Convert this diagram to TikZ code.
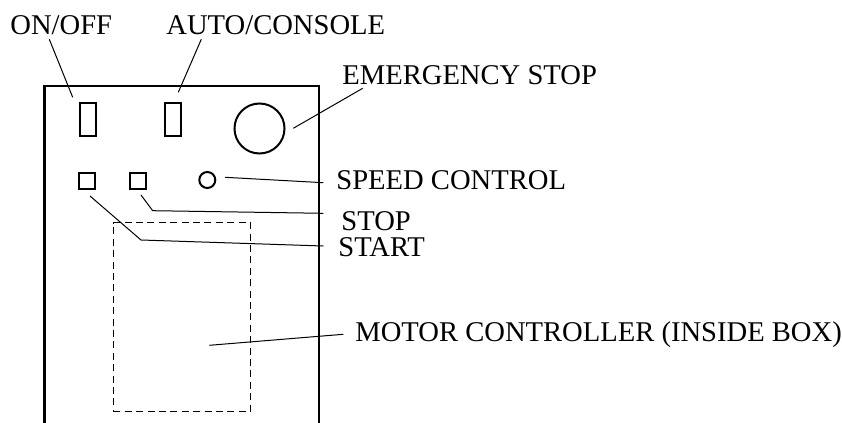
\documentclass[tikz,border=0pt]{standalone}
\usepackage{fontspec}
\setmainfont{Liberation Serif}
\usetikzlibrary{positioning}
\tikzset{
  lbl/.style={inner sep=0pt,anchor=base west,font=\fontsize{14.3}{16}\selectfont},
  part/.style={draw,line width=1pt,inner sep=0pt},
  lead/.style={line width=0.5pt}
}
\begin{document}
\begin{tikzpicture}[x=0.5pt,y=-0.5pt]
\useasboundingbox (0,0) rectangle (842,423);
% panel
\draw[line width=1.15pt] (44.5,423)--(44.5,86)--(319,86)--(319,423);
\node[draw,line width=0.5pt,dash pattern=on 3.5pt off 2.2pt,inner sep=0pt,minimum width=68.6pt,minimum height=94.2pt] (motor) at (181.9,316.9) {};
% switches and buttons
\node[part,minimum width=8pt,minimum height=16.5pt] (onoff) at (88,119.5) {};
\node[part,minimum width=8pt,minimum height=16.5pt] (auto) at (173,119.5) {};
\node[part,circle,minimum size=25pt] (estop) at (259.5,128.5) {};
\node[part,minimum size=8pt] (start) at (86.7,180.5) {};
\node[part,minimum size=8pt] (stop) at (138.3,180.5) {};
\node[part,circle,minimum size=8pt] (speed) at (207.3,180) {};
% labels
\node[lbl] (onofflbl) at (10,34) {ON/OFF};
\node[lbl] (autolbl) at (166,34) {AUTO/CONSOLE};
\node[lbl] (estoplbl) at (342,84) {EMERGENCY STOP};
\node[lbl] (speedlbl) at (336,189) {SPEED CONTROL};
\node[lbl] (stoplbl) at (341,230) {STOP};
\node[lbl] (startlbl) at (338,256.7) {START};
\node[lbl] (motorlbl) at (355,341.7) {MOTOR CONTROLLER (INSIDE BOX)};
% leader ends
\coordinate (onoff-a) at (49.3,39.3);
\coordinate (onoff-b) at (72.7,97.3);
\coordinate (auto-a) at (201.3,39.3);
\coordinate (auto-b) at (178.3,92.3);
\coordinate (estop-a) at (362.7,88.3);
\coordinate (estop-b) at (293.3,128.3);
\coordinate (speed-b) at (225,177.3);
\coordinate (speed-a) at (323.3,182.7);
\coordinate (stop-b) at (141,195);
\coordinate (stop-k) at (152.7,210.7);
\coordinate (stop-a) at (323.3,213.3);
\coordinate (start-b) at (90,196);
\coordinate (start-k) at (141,240);
\coordinate (start-a) at (323.3,246);
\coordinate (motor-b) at (209.3,345.3);
\coordinate (motor-a) at (343.3,334.3);
% leaders
\draw[lead] (onoff-a)--(onoff-b);
\draw[lead] (auto-a)--(auto-b);
\draw[lead] (estop-a)--(estop-b);
\draw[lead] (speed-a)--(speed-b);
\draw[lead] (stop-a)--(stop-k)--(stop-b);
\draw[lead] (start-a)--(start-k)--(start-b);
\draw[lead] (motor-a)--(motor-b);
\end{tikzpicture}
\end{document}
